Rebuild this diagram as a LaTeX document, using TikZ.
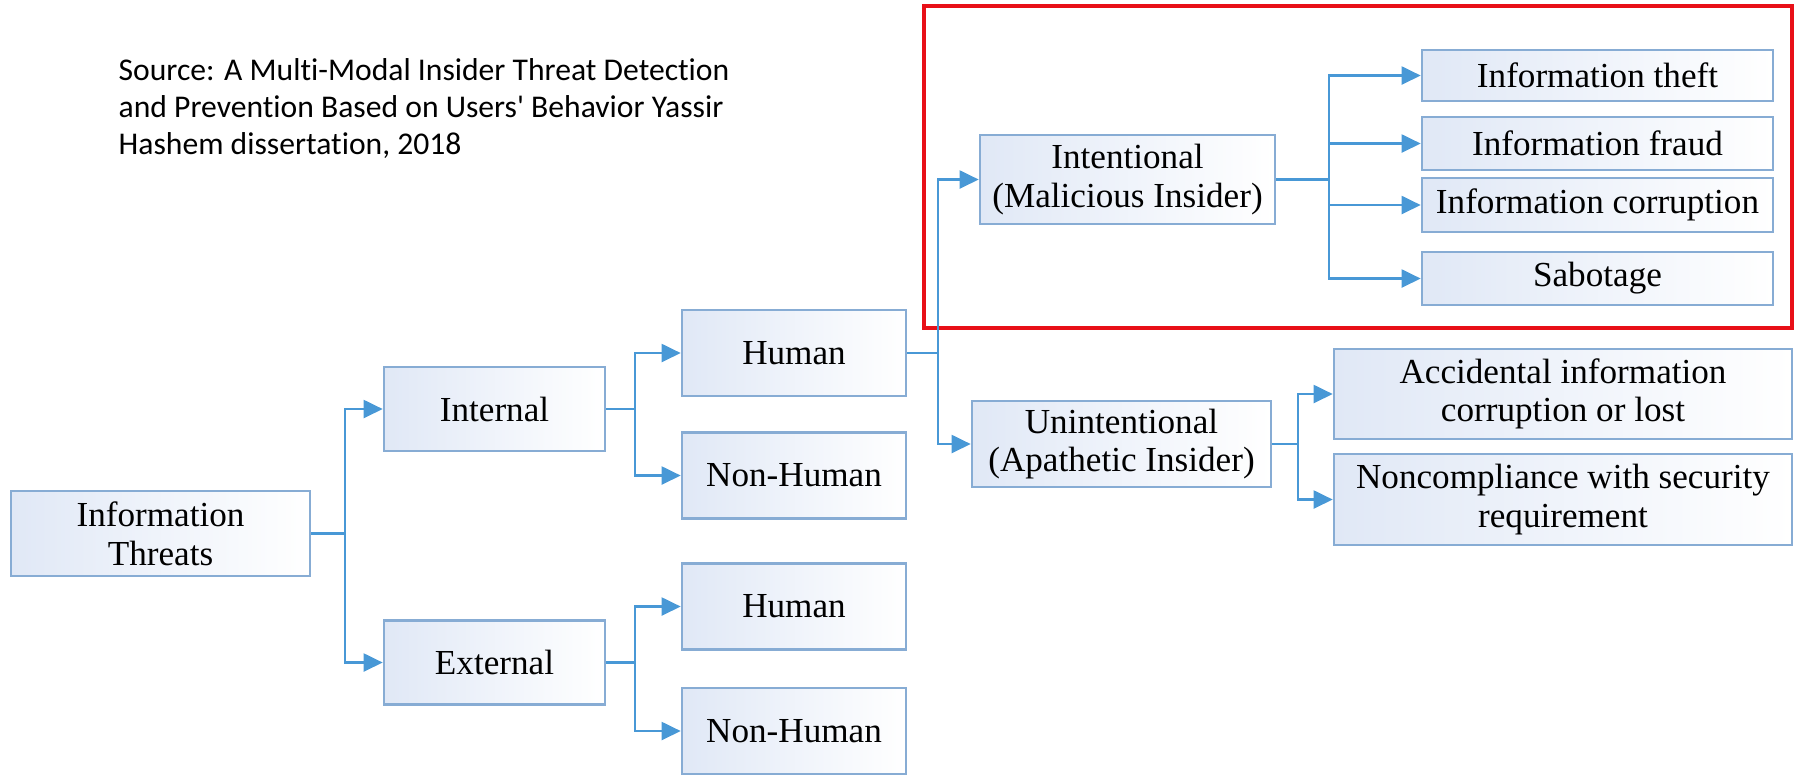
\documentclass[tikz,border=0pt]{standalone}
\usepackage{fontspec}
\setmainfont{Liberation Serif}
\newfontfamily\srcfont[Ligatures=NoCommon]{Carlito}
\usepackage{xcolor}
\usetikzlibrary{arrows.meta}
\definecolor{linkblue}{RGB}{72,152,214}
\definecolor{boxline}{RGB}{135,172,212}
\definecolor{boxfill}{RGB}{224,232,246}
\definecolor{markred}{RGB}{232,16,24}

\begin{document}
\begin{tikzpicture}[box/.style={draw=boxline, line width=0.75pt, left color=boxfill, right color=white, align=center, inner sep=1pt, font=\fontsize{10}{11}\selectfont},
arr/.style={draw=linkblue, line width=0.6pt, -{Triangle[length=1.9mm,width=1.8mm]}}]
	\useasboundingbox (0,0) rectangle (17.98,-7.78);
	% source note
	\node[anchor=north west, align=left, inner sep=0, font=\srcfont\fontsize{9}{10.5}\selectfont] at (1.18,-0.58) (src) {Source: A Multi-Modal Insider Threat Detection\\and Prevention Based on Users' Behavior Yassir\\Hashem dissertation, 2018};
	% highlight
	\draw[markred, line width=1.2pt] (9.24,-0.06) rectangle (17.92,-3.28);
	% tree
	\node[box, minimum width=2.99cm, minimum height=0.85cm] at (1.605,-5.335) (threats) {Information\\Threats};
	\node[box, minimum width=2.21cm, minimum height=0.84cm] at (4.945,-4.09) (internal) {Internal};
	\node[box, minimum width=2.21cm, minimum height=0.84cm] at (4.945,-6.625) (external) {External};
	\node[box, minimum width=2.24cm, minimum height=0.86cm] at (7.94,-3.53) (human1) {Human};
	\node[box, minimum width=2.24cm, minimum height=0.86cm] at (7.94,-4.755) (nonhuman1) {Non-Human};
	\node[box, minimum width=2.24cm, minimum height=0.86cm] at (7.94,-6.065) (human2) {Human};
	\node[box, minimum width=2.24cm, minimum height=0.86cm] at (7.94,-7.31) (nonhuman2) {Non-Human};
	\node[box, minimum width=2.95cm, minimum height=0.89cm] at (11.275,-1.795) (intent) {Intentional\\(Malicious Insider)};
	\node[box, minimum width=2.99cm, minimum height=0.86cm] at (11.215,-4.44) (unintent) {Unintentional\\(Apathetic Insider)};
	\node[box, minimum width=3.51cm, minimum height=0.51cm] at (15.975,-0.755) (theft) {Information theft};
	\node[box, minimum width=3.51cm, minimum height=0.53cm] at (15.975,-1.435) (fraud) {Information fraud};
	\node[box, minimum width=3.51cm, minimum height=0.54cm] at (15.975,-2.05) (corrupt) {Information corruption};
	\node[box, minimum width=3.51cm, minimum height=0.53cm] at (15.975,-2.785) (sabotage) {Sabotage};
	\node[box, minimum width=4.58cm, minimum height=0.90cm] at (15.63,-3.94) (accident) {Accidental information\\corruption or lost};
	\node[box, minimum width=4.58cm, minimum height=0.91cm] at (15.63,-4.995) (noncomp) {Noncompliance with security\\requirement};
	% connectors
	\draw[arr] (threats.east) -- ++(0.34,0) |- (internal.west);
	\draw[arr] (threats.east) -- ++(0.34,0) |- (external.west);
	\draw[arr] (internal.east) -- ++(0.29,0) |- (human1.west);
	\draw[arr] (internal.east) -- ++(0.29,0) |- (nonhuman1.west);
	\draw[arr] (external.east) -- ++(0.29,0) |- (human2.west);
	\draw[arr] (external.east) -- ++(0.29,0) |- (nonhuman2.west);
	\draw[arr] (human1.east) -- ++(0.31,0) |- (intent.west);
	\draw[arr] (human1.east) -- ++(0.31,0) |- (unintent.west);
	\draw[arr] (intent.east) -- ++(0.53,0) |- (theft.west);
	\draw[arr] (intent.east) -- ++(0.53,0) |- (fraud.west);
	\draw[arr] (intent.east) -- ++(0.53,0) |- (corrupt.west);
	\draw[arr] (intent.east) -- ++(0.53,0) |- (sabotage.west);
	\draw[arr] (unintent.east) -- ++(0.26,0) |- (accident.west);
	\draw[arr] (unintent.east) -- ++(0.26,0) |- (noncomp.west);
\end{tikzpicture}
\end{document}
